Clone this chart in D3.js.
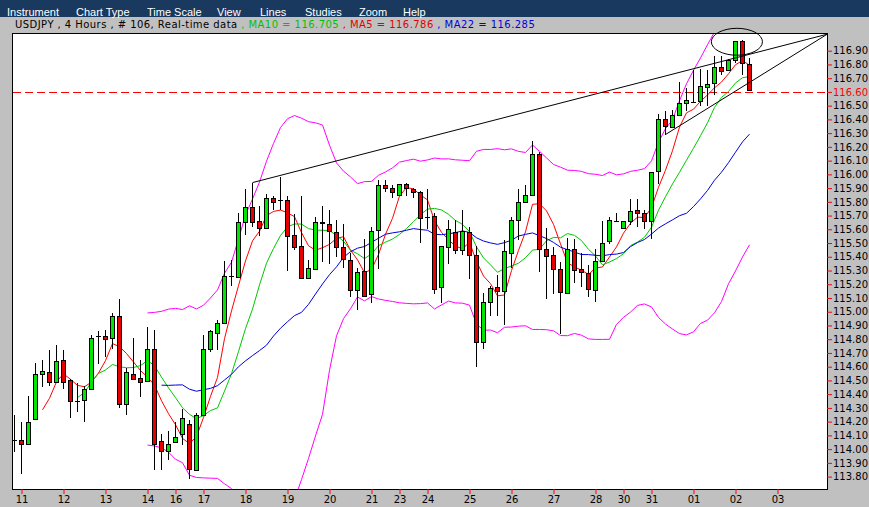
<!DOCTYPE html>
<html><head><meta charset="utf-8">
<script src="https://cdn.jsdelivr.net/npm/d3@7"></script>
<style>
body{margin:0;background:#c0c0c0;overflow:hidden;}
svg{display:block;}
</style></head><body>
<svg id="c" width="869" height="507"></svg>
<script>
// ---- data (USDJPY, 4 hours, 106 bars) ----
const opens = [
114.07,114.07,114.04,114.22,114.55,114.56,114.49,114.65,114.50,114.35,
114.36,114.44,114.82,114.82,114.81,114.97,114.33,114.55,114.52,114.50,
114.73,114.06,113.99,114.05,114.11,114.18,113.85,114.25,114.73,114.85,
114.92,115.26,115.25,115.65,115.76,115.66,115.61,115.83,115.81,115.81,
115.56,115.48,115.25,115.31,115.65,115.64,115.58,115.47,115.38,115.16,
115.30,115.13,115.59,115.92,115.90,115.85,115.93,115.89,115.87,115.69,
115.70,115.18,115.47,115.58,115.45,115.58,115.41,114.78,115.07,115.18,
115.15,115.43,115.67,115.80,115.85,116.15,115.46,115.41,115.31,115.14,
115.46,115.31,115.28,115.16,115.37,115.52,115.66,115.61,115.66,115.74,
115.72,115.66,116.02,116.40,116.34,116.43,116.52,116.53,116.53,116.64,
116.66,116.78,116.76,116.83,116.97,116.80];
const highs = [
114.25,114.20,114.39,114.63,114.65,114.72,114.76,114.72,114.51,114.48,
114.46,114.83,114.86,114.87,114.99,115.09,114.59,114.81,114.65,114.89,
114.87,114.11,114.13,114.20,114.29,114.21,114.26,114.83,114.87,114.94,
115.37,115.38,115.72,115.89,115.94,115.77,115.86,115.84,115.98,115.84,
115.71,115.84,115.38,115.69,115.77,115.74,115.67,115.64,115.43,115.32,
115.53,115.62,115.96,115.96,115.92,115.93,115.94,115.90,115.88,115.89,
115.72,115.48,115.67,115.67,115.74,115.62,115.48,115.14,115.19,115.27,
115.52,115.69,115.89,115.92,116.24,116.16,115.61,115.47,115.36,115.54,
115.53,115.43,115.34,115.46,115.66,115.69,115.72,115.66,115.82,115.82,
115.74,116.02,116.44,116.46,116.47,116.67,116.63,116.76,116.77,116.76,
116.86,116.86,116.84,116.97,116.98,116.85];
const lows = [
113.98,113.82,114.04,114.22,114.45,114.46,114.49,114.44,114.23,114.27,
114.20,114.44,114.62,114.67,114.73,114.30,114.25,114.51,114.38,114.50,
113.85,113.85,113.92,114.05,114.03,113.78,113.85,114.25,114.71,114.72,
114.92,115.19,115.25,115.56,115.62,115.55,115.61,115.74,115.74,115.30,
115.45,115.24,115.24,115.31,115.36,115.35,115.40,115.32,115.11,115.01,
115.11,115.06,115.31,115.87,115.83,115.85,115.84,115.83,115.50,115.60,
115.13,115.06,115.35,115.42,115.41,115.24,114.60,114.73,114.97,114.97,
114.90,115.32,115.52,115.80,115.85,115.29,115.09,115.13,114.84,115.14,
115.21,115.18,115.11,115.07,115.37,115.49,115.65,115.61,115.63,115.62,
115.60,115.53,115.93,116.29,116.34,116.43,116.46,116.52,116.50,116.50,
116.58,116.72,116.76,116.81,116.72,116.61];
const closes = [
114.07,114.04,114.20,114.55,114.57,114.49,114.64,114.49,114.35,114.35,
114.44,114.81,114.82,114.80,114.97,114.33,114.56,114.51,114.49,114.73,
114.04,113.99,114.04,114.09,114.23,113.85,114.25,114.73,114.86,114.92,
115.26,115.26,115.65,115.76,115.65,115.61,115.83,115.80,115.81,115.55,
115.47,115.25,115.32,115.65,115.64,115.59,115.47,115.38,115.16,115.29,
115.12,115.59,115.92,115.90,115.87,115.93,115.90,115.87,115.68,115.69,
115.17,115.48,115.60,115.45,115.59,115.41,114.78,115.07,115.17,115.15,
115.44,115.67,115.80,115.85,116.15,115.46,115.41,115.31,115.14,115.46,
115.31,115.29,115.16,115.37,115.50,115.67,115.66,115.66,115.73,115.72,
115.66,116.02,116.40,116.35,116.43,116.52,116.54,116.53,116.64,116.66,
116.78,116.75,116.83,116.97,116.81,116.61];

const yTickValues = [113.8,113.9,114.0,114.1,114.2,114.3,114.4,114.5,114.6,114.7,114.8,114.9,
  115.0,115.1,115.2,115.3,115.4,115.5,115.6,115.7,115.8,115.9,116.0,116.1,116.2,116.3,116.4,
  116.5,116.6,116.7,116.8,116.9];
const xTickIndex  = [1,7,13,19,23,27,33,39,45,51,55,59,65,71,77,83,87,91,97,103,109];
const xTickLabels = ["11","12","13","14","16","17","18","19","20","21","23","24","25","26","27","28","30","31","01","02","03"];

const menuItems = ["Instrument","Chart Type","Time Scale","View","Lines","Studies","Zoom","Help"];
const menuX = [7,76,147,217,260,305,359,403];
const titleParts = [
  {t:"USDJPY , 4 Hours , # 106, Real-time data", c:"#000000"},
  {t:" , MA10 = 116.705", c:"#00c000"},
  {t:" , MA5 = 116.786", c:"#e00000"},
  {t:" , MA22 = 116.285", c:"#0000e0"}];

const priceLevel = 116.60;
const trendLines = [
  [[34,115.94],[116.1,117.02]],
  [[93,116.29],[116.1,117.02]]];
const circleMark = {cx:103.2, cy:116.965, rx:3.65, ry:0.098};

const maPeriods = [{n:5,c:"#ff0000"},{n:10,c:"#00c800"},{n:22,c:"#0000dd"}];
const bbPeriod = 20, bbK = 2;

// ---- layout ----
const svg = d3.select("#c");
const P = {l:13, t:34, r:827, b:489};
const x = d3.scaleLinear().domain([0,105]).range([14.5,749.5]);
const y = d3.scaleLinear().domain([113.8,116.9]).range([476.6,50.7]);

svg.append("rect").attr("width",869).attr("height",507).attr("fill","#c0c0c0");
// menu bar
svg.append("rect").attr("width",869).attr("height",17).attr("fill","#19395e");
svg.selectAll("text.menu").data(menuItems).join("text").attr("class","menu")
  .attr("x",(d,i)=>menuX[i]).attr("y",15.5).attr("fill","#ffffff")
  .style("font-family","'Liberation Sans',Arial,sans-serif").style("font-size","11px").text(d=>d);
// title
const tt = svg.append("text").attr("x",15).attr("y",28)
  .style("font-family","'DejaVu Sans',Verdana,sans-serif").style("font-size","10px").style("letter-spacing","0.45px");
tt.selectAll("tspan").data(titleParts).join("tspan").attr("fill",d=>d.c).text(d=>d.t);

// plot area
svg.append("defs").append("clipPath").attr("id","clip").append("rect")
  .attr("x",P.l).attr("y",P.t).attr("width",P.r-P.l).attr("height",P.b-P.t);
svg.append("rect").attr("x",P.l).attr("y",P.t).attr("width",P.r-P.l).attr("height",P.b-P.t).attr("fill","#ffffff");
const g = svg.append("g").attr("clip-path","url(#clip)");

// current level dashed line
g.append("line").attr("x1",P.l).attr("x2",P.r).attr("y1",Math.round(y(priceLevel))+0.5).attr("y2",Math.round(y(priceLevel))+0.5)
  .attr("stroke","#ff0000").attr("stroke-dasharray","8,4");

// indicators
function sma(n){ return closes.map((c,i)=> i<n-1?null: d3.mean(closes.slice(i-n+1,i+1))); }
function bb(n,k,sign){ return closes.map((c,i)=>{ if(i<n-1) return null; const s=closes.slice(i-n+1,i+1); const m=d3.mean(s); const sd=Math.sqrt(d3.mean(s.map(v=>(v-m)*(v-m)))); return m+sign*k*sd;}); }
const line = d3.line().defined(d=>d!=null).x((d,i)=>x(i)).y(d=>y(d));
[bb(bbPeriod,bbK,1),bb(bbPeriod,bbK,-1)].forEach(s=>{
  g.append("path").attr("d",line(s)).attr("fill","none").attr("stroke","#ff00ff").attr("stroke-width",1);
});
maPeriods.forEach(m=>{
  g.append("path").attr("d",line(sma(m.n))).attr("fill","none").attr("stroke",m.c).attr("stroke-width",1);
});

// candles
const idx = d3.range(opens.length);
const cg = g.append("g");
cg.selectAll("line.wick").data(idx).join("line").attr("class","wick")
  .attr("x1",i=>x(i)).attr("x2",i=>x(i)).attr("y1",i=>Math.round(y(highs[i]))).attr("y2",i=>Math.round(y(lows[i])))
  .attr("stroke","#000");
cg.selectAll("rect.body").data(idx.filter(i=>Math.abs(y(opens[i])-y(closes[i]))>=1)).join("rect").attr("class","body")
  .attr("x",i=>x(i)-2).attr("width",4)
  .attr("y",i=>Math.round(Math.min(y(opens[i]),y(closes[i])))+0.5)
  .attr("height",i=>Math.max(1,Math.round(Math.abs(y(opens[i])-y(closes[i])))))
  .attr("fill",i=>closes[i]>=opens[i]?"#00e600":"#e60000").attr("stroke","#000");
cg.selectAll("line.doji").data(idx.filter(i=>Math.abs(y(opens[i])-y(closes[i]))<1)).join("line").attr("class","doji")
  .attr("x1",i=>x(i)-2.5).attr("x2",i=>x(i)+2.5)
  .attr("y1",i=>Math.round(y(closes[i]))+0.5).attr("y2",i=>Math.round(y(closes[i]))+0.5).attr("stroke","#000");

// trend lines
trendLines.forEach(t=>{
  g.append("line").attr("x1",x(t[0][0])).attr("y1",y(t[0][1])).attr("x2",x(t[1][0])).attr("y2",y(t[1][1]))
    .attr("stroke","#000").attr("stroke-width",1);
});
// frame
svg.append("rect").attr("x",P.l-0.5).attr("y",P.t-0.5).attr("width",P.r-P.l+1).attr("height",P.b-P.t+1)
  .attr("fill","none").attr("stroke","#000");
// ellipse annotation (not clipped)
svg.append("ellipse").attr("cx",x(circleMark.cx)).attr("cy",y(circleMark.cy))
  .attr("rx",x(circleMark.cx+circleMark.rx)-x(circleMark.cx)).attr("ry",y(circleMark.cy-circleMark.ry)-y(circleMark.cy))
  .attr("fill","none").attr("stroke","#000");

// axes
const yAx = svg.append("g").attr("transform",`translate(${P.r},0)`)
  .call(d3.axisRight(y).tickValues(yTickValues).tickSize(5).tickPadding(1).tickFormat(d=>d.toFixed(2)));
yAx.select(".domain").remove();
yAx.selectAll(".tick line").attr("stroke","#ff0000");
yAx.selectAll(".tick text").attr("fill",d=>Math.abs(d-priceLevel)<1e-6?"#ff0000":"#000")
  .style("font-family","'DejaVu Sans',Verdana,sans-serif").style("font-size","10px");
const xAx = svg.append("g").attr("transform",`translate(0,${P.b})`)
  .call(d3.axisBottom(x).tickValues(xTickIndex).tickSize(5).tickPadding(2).tickFormat((d,i)=>xTickLabels[i]));
xAx.select(".domain").remove();
xAx.selectAll(".tick line").attr("stroke","#ff0000");
xAx.selectAll(".tick text").attr("fill","#000")
  .style("font-family","'DejaVu Sans',Verdana,sans-serif").style("font-size","10px");
</script>
</body></html>
